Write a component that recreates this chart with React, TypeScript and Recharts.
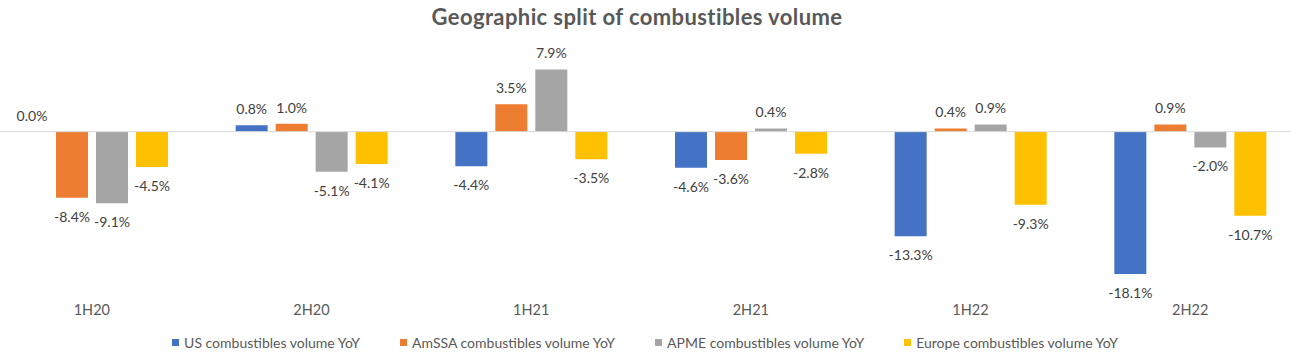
import type { CSSProperties, ReactElement } from 'react'
import { BarChart, Bar, XAxis, YAxis, ReferenceLine, LabelList, Legend } from 'recharts'

// chart values
const CATEGORIES = ['1H20', '2H20', '1H21', '2H21', '1H22', '2H22']
const US_YOY = [0.0, 0.8, -4.4, -4.6, -13.3, -18.1]
const AMSSA_YOY = [-8.4, 1.0, 3.5, -3.6, 0.4, 0.9]
const APME_YOY = [-9.1, -5.1, 7.9, 0.4, 0.9, -2.0]
const EUROPE_YOY = [-4.5, -4.1, -3.5, -2.8, -9.3, -10.7]

const SERIES = [
  { key: 'us', name: 'US combustibles volume YoY', color: '#4472C4', values: US_YOY },
  { key: 'amssa', name: 'AmSSA combustibles volume YoY', color: '#ED7D31', values: AMSSA_YOY },
  { key: 'apme', name: 'APME combustibles volume YoY', color: '#A5A5A5', values: APME_YOY },
  { key: 'europe', name: 'Europe combustibles volume YoY', color: '#FFC000', values: EUROPE_YOY }
]

const data = CATEGORIES.map((cat, i) => {
  const row: Record<string, string | number> = { cat }
  SERIES.forEach(s => { row[s.key] = s.values[i] })
  return row
})

const FONT = 'Lato, "Noto Sans", sans-serif'
const TEXT_DARK = '#404040'
const TEXT_MID = '#595959'

const CHART_W = 1318
const CHART_H = 355
const SHIFT_X = -18

function ValueLabel(props: any): ReactElement | null {
  const { x, y, width, height, value } = props
  if (value == null) return null
  const y1 = Number(y)
  const y2 = Number(y) + Number(height || 0)
  const top = Math.min(y1, y2)
  const bottom = Math.max(y1, y2)
  const cy = value >= 0 ? top - 16 : bottom + 19
  return (
    <text
      x={Number(x) + Number(width) / 2}
      y={cy}
      dy="0.35em"
      textAnchor="middle"
      fill={TEXT_DARK}
      fontSize={14}
      fontFamily={FONT}
    >
      {`${Number(value).toFixed(1)}%`}
    </text>
  )
}

const LEGEND_ROW: CSSProperties = {
  display: 'flex',
  justifyContent: 'center',
  alignItems: 'center',
  gap: 40,
  fontFamily: FONT,
  fontSize: 14,
  color: TEXT_MID,
  whiteSpace: 'nowrap'
}

function LegendContent(): ReactElement {
  return (
    <div style={LEGEND_ROW}>
      {SERIES.map(s => (
        <span key={s.key} style={{ display: 'inline-flex', alignItems: 'center', gap: 5 }}>
          <span style={{ width: 7, height: 7, background: s.color, display: 'inline-block' }} />
          <span>{s.name}</span>
        </span>
      ))}
    </div>
  )
}

export default function App(): ReactElement {
  return (
    <div
      style={{
        position: 'absolute',
        left: 0,
        top: 0,
        width: 1291,
        height: 355,
        overflow: 'hidden',
        background: '#fff'
      }}
    >
      <div
        style={{
          position: 'absolute',
          left: 0,
          top: 3,
          width: 1274,
          textAlign: 'center',
          fontFamily: FONT,
          fontWeight: 700,
          fontSize: 22,
          letterSpacing: 0.4,
          color: TEXT_MID
        }}
      >
        Geographic split of combustibles volume
      </div>
      <div style={{ position: 'absolute', left: SHIFT_X, top: 0 }}>
        <BarChart
          width={CHART_W}
          height={CHART_H}
          data={data}
          margin={{ top: 53, right: 0, bottom: 36, left: 0 }}
          barSize={32}
          barGap={8}
        >
          <XAxis
            dataKey="cat"
            axisLine={false}
            tickLine={false}
            tickMargin={10}
            height={30}
            interval={0}
            tick={{ fill: TEXT_MID, fontSize: 14.5, fontFamily: FONT }}
          />
          <YAxis hide domain={[-20, 10]} />
          <ReferenceLine y={0} stroke="#D9D9D9" strokeWidth={1} />
          {SERIES.map(s => (
            <Bar
              key={s.key}
              dataKey={s.key}
              name={s.name}
              fill={s.color}
              minPointSize={0.01}
              isAnimationActive={false}
            >
              <LabelList dataKey={s.key} content={ValueLabel} />
            </Bar>
          ))}
          <Legend
            layout="horizontal"
            verticalAlign="middle"
            align="center"
            content={LegendContent}
            wrapperStyle={{ top: 334, left: 0, width: 1326 }}
          />
        </BarChart>
      </div>
    </div>
  )
}
